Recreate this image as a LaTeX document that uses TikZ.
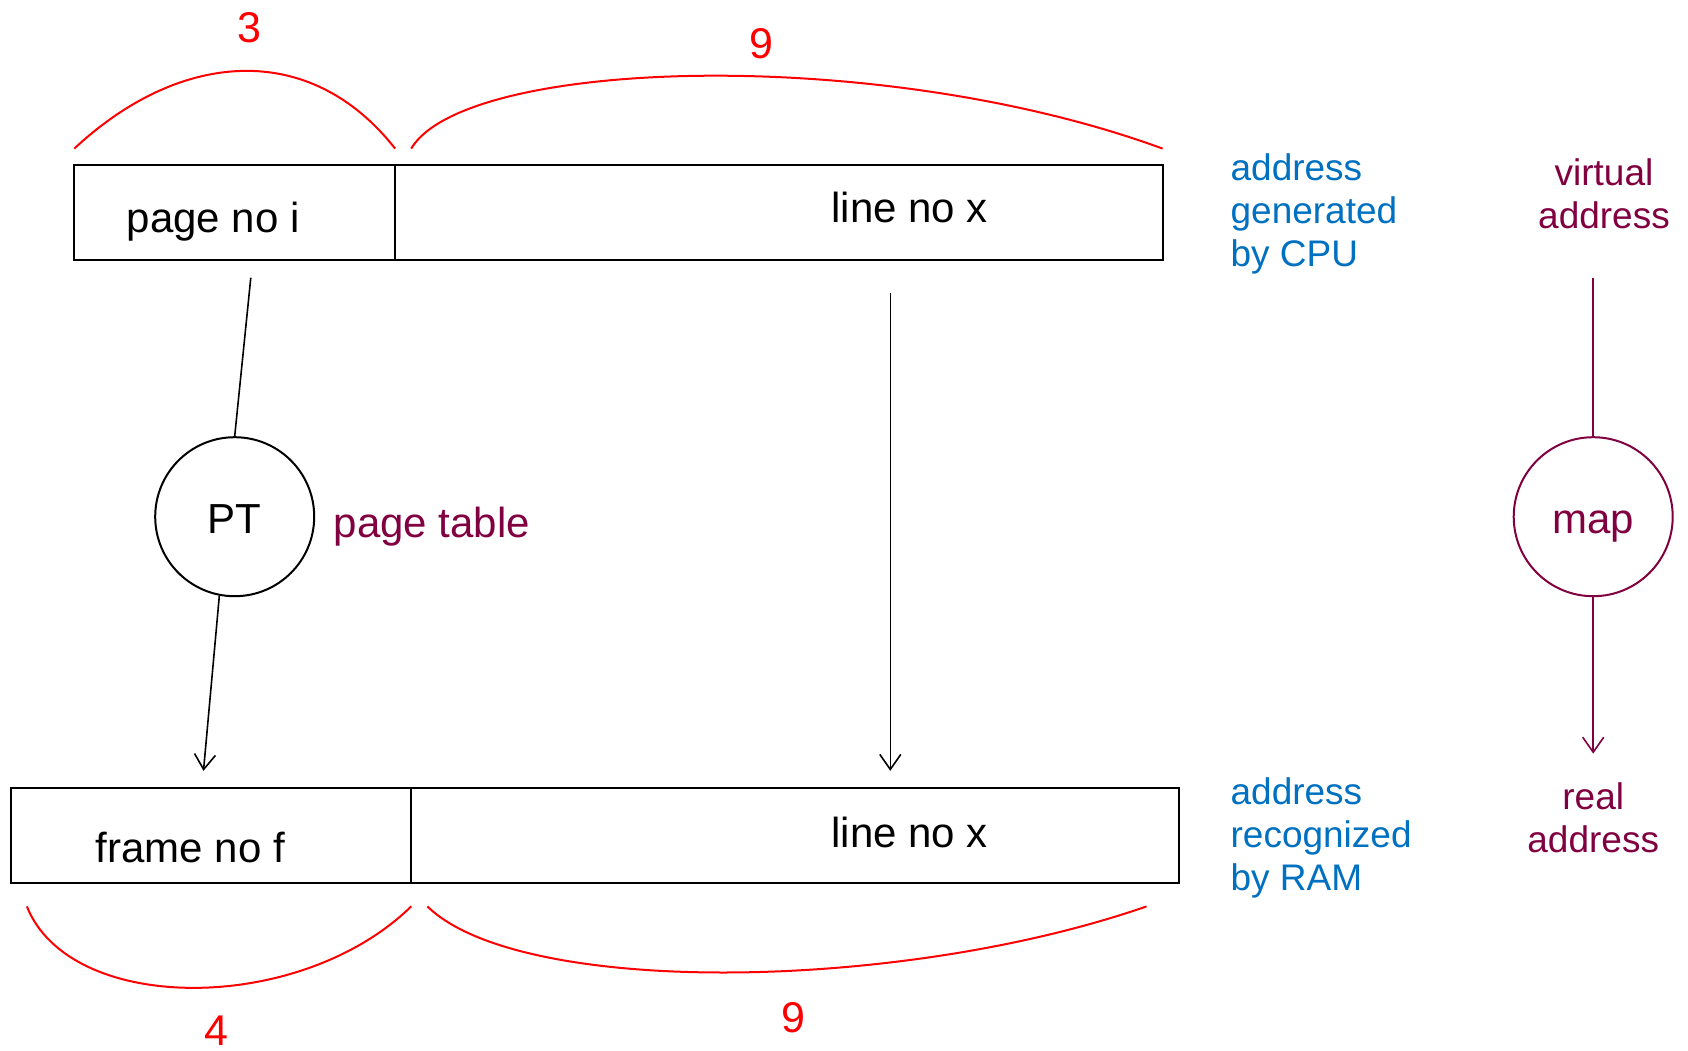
\documentclass[tikz,border=0pt]{standalone}
\usepackage{fontspec}
\setmainfont{Liberation Sans}
\usetikzlibrary{arrows.meta}
\definecolor{cpublue}{RGB}{0,112,192}
\definecolor{plum}{RGB}{128,0,64}
\definecolor{bitred}{RGB}{255,0,0}

\begin{document}
\begin{tikzpicture}[x=1pt,y=-1pt,
  boxcell/.style={draw=black, line width=2pt, inner sep=0pt, minimum height=95pt},
  field/.style={font=\fontsize{42}{50}\selectfont, inner sep=0pt},
  bitcount/.style={text=bitred, font=\fontsize{43}{50}\selectfont, inner sep=0pt, text height=31pt, text depth=0pt},
  bitbrace/.style={draw=bitred, line width=2pt},
  sidenote/.style={text=cpublue, font=\fontsize{37}{43}\selectfont, align=left, inner sep=0pt},
  aside/.style={text=plum, font=\fontsize{37}{43}\selectfont, align=center, inner sep=0pt},
  bubble/.style={circle, draw, line width=2pt, minimum size=159pt, inner sep=0pt, text height=34pt, text depth=0pt, font=\fontsize{42}{50}\selectfont},
  link/.style={line width=1.6pt},
  arrowed/.style={-{Straight Barb[length=15pt,width=21pt,line width=1.6pt]}}
]
\useasboundingbox (0,0) rectangle (1688,1050);

% virtual address: page number | line number
\node[boxcell, minimum width=320.8pt] (page) at (234.7,212.05) {};
\node[boxcell, minimum width=767.5pt] (lineA) at (778.85,212.05) {};
\node[field] (pagetxt) at (213.1,221.7) {page no i};
\node[field] (lineAtxt) at (909.6,207.8) {line no x};

% real address: frame number | line number
\node[boxcell, minimum width=400.4pt] (frame) at (211,835.9) {};
\node[boxcell, minimum width=767.6pt] (lineB) at (795,835.9) {};
\node[field] (frametxt) at (190.5,847.2) {frame no f};
\node[field] (lineBtxt) at (909.6,832.1) {line no x};

% bit widths above and below the fields
\coordinate (tA) at (74.3,148.6);
\coordinate (tB) at (395.1,148.6);
\coordinate (tC) at (411.2,148.6);
\coordinate (tD) at (1162.6,148.6);
\draw[bitbrace] (tA) .. controls (180,50) and (310,40) .. (tB);
\draw[bitbrace] (tC) .. controls (465,58) and (880,45) .. (tD);
\node[bitcount] (w3) at (249.7,26.9) {3};
\node[bitcount] (w9a) at (761,43) {9};

\coordinate (bA) at (26.9,906.4);
\coordinate (bB) at (411.2,906.4);
\coordinate (bC) at (427.4,906.4);
\coordinate (bD) at (1146.5,906.4);
\draw[bitbrace] (bA) .. controls (70,1015) and (300,1015) .. (bB);
\draw[bitbrace] (bC) .. controls (520,997) and (900,992) .. (bD);
\node[bitcount] (w4) at (216.4,1030) {4};
\node[bitcount] (w9b) at (793.4,1017.3) {9};

% page table lookup
\node[bubble] (PT) at (234.7,516.7) {PT};
\node[text=plum, font=\fontsize{42}{50}\selectfont, inner sep=0pt, anchor=base west] (pttxt) at (333.7,537) {page table};
\coordinate (pgout) at (250.8,277.7);
\coordinate (frin) at (203.5,770.8);
\draw[link] (pgout) -- (PT.north);
\draw[link, arrowed] (PT.259) -- (frin);

% line number passes through unchanged
\coordinate (lxout) at (890.3,292.8);
\coordinate (lxin) at (890.3,770.8);
\draw[link, arrowed] (lxout) -- (lxin);

% side notes
\node[sidenote, anchor=west] (cpu) at (1230.4,214.3) {address\\generated\\by CPU};
\node[sidenote, anchor=west] (ram) at (1230.4,838.3) {address\\recognized\\by RAM};

% general scheme: virtual -> map -> real
\node[aside] (virt) at (1604,193.5) {virtual\\address};
\node[bubble, draw=plum, text=plum] (map) at (1593.2,516.7) {map};
\node[aside] (real) at (1593.2,818) {real\\address};
\coordinate (vaout) at (1593.2,277.7);
\coordinate (rain) at (1593.2,753.6);
\draw[link, draw=plum] (vaout) -- (map);
\draw[link, draw=plum, arrowed] (map) -- (rain);
\end{tikzpicture}
\end{document}
